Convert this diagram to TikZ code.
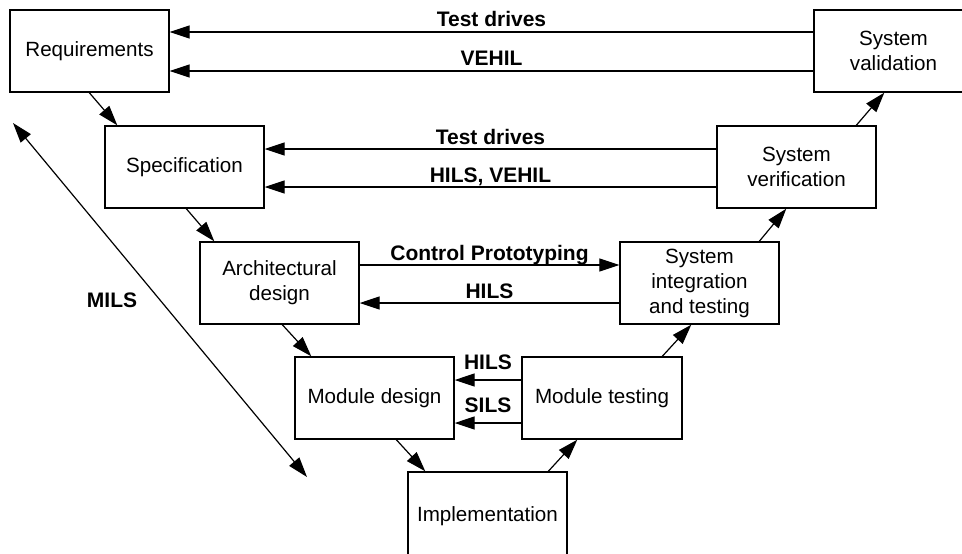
\documentclass[tikz,border=0pt]{standalone}
\usepackage{fontspec}
\setmainfont{Liberation Sans}
\usetikzlibrary{arrows.meta}
\tikzset{
  box/.style={draw, line width=1.4pt, minimum width=159pt, minimum height=82pt,
    align=center, inner sep=0pt, font=\fontsize{20.6}{25}\selectfont},
  arr/.style={line width=1.2pt, -{Triangle[length=20pt,width=13pt]}},
  dblarr/.style={line width=1.2pt, {Triangle[length=20pt,width=13pt]}-{Triangle[length=20pt,width=13pt]}},
  lbl/.style={font=\fontsize{21}{24}\selectfont\bfseries, anchor=base, inner sep=0pt},
}
\begin{document}
\begin{tikzpicture}[x=1pt,y=-1pt]
\useasboundingbox (0,0) rectangle (962,554);
\clip (0,0) rectangle (962,554);
\fill[white] (0,0) rectangle (962,554);
% boxes
\node[box] (req)  at (89.5,51)  {Requirements};
\node[box] (spec) at (184.5,167) {Specification};
\node[box] (arch) at (279.5,283) {Architectural\\design};
\node[box] (md)   at (374.5,398) {Module design};
\node[box, minimum height=88pt] (impl) at (487.5,516) {\raisebox{3pt}{Implementation}};
\node[box, minimum width=160pt] (mt) at (602,398) {Module testing};
\node[box] (si)   at (699.5,283) {System\\integration\\and testing};
\node[box] (sver) at (796.5,167) {System\\verification};
\node[box] (sval) at (893.5,51)  {System\\validation};
% V-flow
\draw[arr] ([xshift=80pt]req.south west) -- ([xshift=13pt]spec.north west);
\draw[arr] ([xshift=82pt]spec.south west) -- ([xshift=15pt]arch.north west);
\draw[arr] ([xshift=83pt]arch.south west) -- ([xshift=17pt]md.north west);
\draw[arr] ([xshift=102pt]md.south west) -- ([xshift=18pt]impl.north west);
\draw[arr] ([xshift=141pt]impl.north west) -- ([xshift=56pt]mt.south west);
\draw[arr] ([xshift=141pt]mt.north west) -- ([xshift=72pt]si.south west);
\draw[arr] ([xshift=140pt]si.north west) -- ([xshift=70pt]sver.south west);
\draw[arr] ([xshift=140pt]sver.north west) -- ([xshift=71pt]sval.south west);
% horizontal connections
\draw[arr] ([yshift=19pt]sval.west) -- ([yshift=19pt]req.east)
  node[lbl, midway, yshift=5pt] {Test drives};
\draw[arr] ([yshift=-20pt]sval.west) -- ([yshift=-20pt]req.east)
  node[lbl, midway, yshift=6pt] {VEHIL};
\draw[arr] ([yshift=18pt]sver.west) -- ([yshift=18pt]spec.east)
  node[lbl, midway, yshift=5pt] {Test drives};
\draw[arr] ([yshift=-20pt]sver.west) -- ([yshift=-20pt]spec.east)
  node[lbl, midway, yshift=5pt] {HILS, VEHIL};
\draw[arr] ([yshift=18pt]arch.east) -- ([yshift=18pt]si.west)
  node[lbl, midway, yshift=5pt] {Control Prototyping};
\draw[arr] ([yshift=-20pt]si.west) -- ([yshift=-20pt]arch.east)
  node[lbl, midway, yshift=5pt] {HILS};
\draw[arr] ([yshift=18pt]mt.west) -- ([yshift=18pt]md.east)
  node[lbl, midway, yshift=11pt] {HILS};
\draw[arr] ([yshift=-25pt]mt.west) -- ([yshift=-25pt]md.east)
  node[lbl, midway, yshift=11pt] {SILS};
% MILS
\coordinate (m1) at (13,123);
\coordinate (m2) at (307,477);
\draw[dblarr] (m1) -- (m2);
\node[lbl, anchor=center] (mils) at (112,300) {MILS};
\end{tikzpicture}
\end{document}
